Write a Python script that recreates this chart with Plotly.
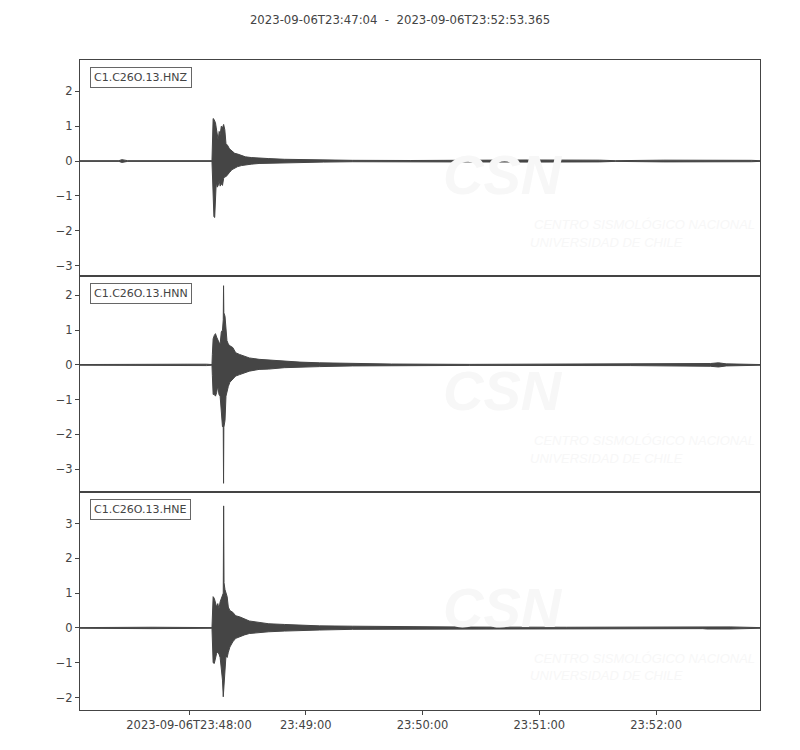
import pandas as pd
import plotly.graph_objects as go
from plotly.subplots import make_subplots

START = "2023-09-06 23:47:04"
END = "2023-09-06 23:52:53.365"
TITLE = "2023-09-06T23:47:04  -  2023-09-06T23:52:53.365"

channels = ["C1.C26O.13.HNZ", "C1.C26O.13.HNN", "C1.C26O.13.HNE"]

# envelope of each trace: seconds after start, upper and lower amplitude
hnz_t = [0, 20, 21.5, 23, 24.5, 67.8, 68.0, 68.4, 68.8, 69.2, 69.6, 70.0, 70.5, 71.0, 71.5, 72.0,
         72.6, 73.2, 73.8, 74.4, 75.0, 75.8, 76.8, 78.0, 79.5, 81.0, 83.0, 85.0, 88.0, 92.0, 97.0,
         105, 113, 125, 140, 170, 195, 230, 267, 275, 300, 320, 345, 349.365]
hnz_hi = [0.01, 0.01, 0.04, 0.03, 0.01, 0.01, 0.3, 1.22, 1.2, 1.15, 1.1, 0.95, 0.8, 0.6, 0.85, 0.75,
          1.0, 0.95, 1.05, 0.9, 0.5, 0.45, 0.35, 0.3, 0.22, 0.2, 0.15, 0.12, 0.1, 0.08, 0.07,
          0.05, 0.04, 0.03, 0.02, 0.015, 0.025, 0.03, 0.025, 0.01, 0.025, 0.03, 0.02, 0.01]
hnz_lo = [-0.01, -0.01, -0.04, -0.03, -0.01, -0.01, -0.4, -1.0, -1.6, -1.62, -1.2, -0.6, -0.75, -0.7, -0.55, -0.72,
          -0.65, -0.7, -0.5, -0.45, -0.45, -0.4, -0.33, -0.25, -0.2, -0.16, -0.13, -0.11, -0.09, -0.07, -0.06,
          -0.05, -0.04, -0.03, -0.02, -0.015, -0.025, -0.03, -0.025, -0.01, -0.025, -0.03, -0.02, -0.01]

hnn_t = [0, 19, 45, 55, 65, 67.8, 68.0, 68.4, 69.0, 69.6, 70.2, 70.8, 71.4, 72.0, 72.6, 73.2,
         73.6, 73.75, 73.9, 74.5, 75.0, 75.5, 76.2, 77.0, 78.5, 80.0, 82.0, 84.5, 87.0, 92.0, 97.0,
         105, 113, 123, 140, 160, 200, 283, 298, 324, 328, 332, 349.365]
hnn_hi = [0.01, 0.02, 0.02, 0.02, 0.02, 0.01, 0.3, 0.75, 0.85, 0.9, 0.8, 0.7, 0.65, 0.6, 0.95, 1.0,
          1.3, 2.28, 1.5, 1.4, 1.1, 0.7, 0.6, 0.55, 0.5, 0.35, 0.3, 0.25, 0.2, 0.16, 0.14,
          0.11, 0.08, 0.06, 0.04, 0.025, 0.015, 0.02, 0.02, 0.04, 0.06, 0.03, 0.01]
hnn_lo = [-0.01, -0.02, -0.02, -0.02, -0.02, -0.01, -0.3, -0.85, -0.85, -0.9, -0.8, -0.6, -0.85, -0.9, -1.2, -1.78,
          -1.8, -3.41, -1.8, -1.6, -0.9, -0.75, -0.62, -0.5, -0.42, -0.32, -0.28, -0.22, -0.18, -0.13, -0.12,
          -0.08, -0.06, -0.05, -0.03, -0.02, -0.015, -0.02, -0.02, -0.04, -0.06, -0.03, -0.01]

hne_t = [0, 19, 37, 67.8, 68.0, 68.4, 69.0, 69.6, 70.2, 70.8, 71.4, 72.0, 72.6, 73.2, 73.6, 73.8,
         74.0, 74.5, 75.0, 75.6, 76.2, 77.0, 78.5, 80, 82, 84.5, 87, 92, 97, 105, 113, 123, 140, 160,
         200, 250, 320, 322, 328, 334, 349.365]
hne_hi = [0.01, 0.02, 0.02, 0.01, 0.3, 0.9, 0.85, 0.75, 0.6, 0.7, 0.55, 0.75, 0.85, 0.9, 1.0, 3.51,
          1.3, 1.1, 1.0, 0.9, 0.6, 0.5, 0.45, 0.35, 0.32, 0.25, 0.2, 0.16, 0.12, 0.1, 0.08, 0.06, 0.05, 0.04,
          0.025, 0.02, 0.02, 0.03, 0.04, 0.03, 0.01]
hne_lo = [-0.01, -0.02, -0.02, -0.01, -0.3, -1.0, -1.02, -0.9, -0.73, -0.7, -0.75, -0.85, -1.1, -1.5, -1.98, -1.98,
          -1.8, -1.2, -0.8, -0.85, -0.7, -0.55, -0.4, -0.3, -0.25, -0.2, -0.16, -0.13, -0.11, -0.09, -0.07, -0.06, -0.04, -0.03,
          -0.02, -0.02, -0.02, -0.03, -0.04, -0.03, -0.01]

y_ranges = [[-3.30, 2.90], [-3.66, 2.56], [-2.36, 3.91]]
x_tickvals = ["2023-09-06 23:48:00", "2023-09-06 23:49:00", "2023-09-06 23:50:00",
              "2023-09-06 23:51:00", "2023-09-06 23:52:00"]
x_ticktext = ["2023-09-06T23:48:00", "23:49:00", "23:50:00", "23:51:00", "23:52:00"]

traces = [(hnz_t, hnz_hi, hnz_lo), (hnn_t, hnn_hi, hnn_lo), (hne_t, hne_hi, hne_lo)]

INK = "#454545"
FONT = "DejaVu Sans"
WM = "#f7f7f7"

fig = make_subplots(rows=3, cols=1, shared_xaxes=True, vertical_spacing=0)
start = pd.Timestamp(START)

for i, (t, hi, lo) in enumerate(traces, start=1):
    xs = [start + pd.Timedelta(seconds=s) for s in t]
    fig.add_trace(go.Scatter(
        x=xs + xs[::-1], y=hi + lo[::-1], mode="lines", fill="toself",
        fillcolor=INK, line=dict(color=INK, width=1), hoverinfo="skip", showlegend=False),
        row=i, col=1)

# domains matching the reference layout
domains = [[0.6677, 1.0], [0.3354, 0.6677], [0.0, 0.3354]]
for i in range(3):
    yname = "yaxis" if i == 0 else f"yaxis{i + 1}"
    fig.layout[yname].update(domain=domains[i], range=y_ranges[i], dtick=1, tick0=0,
                             ticks="outside", ticklen=4, tickcolor="#444", showline=True,
                             linecolor="#444", linewidth=1, mirror=True, showgrid=False,
                             zeroline=False, tickfont=dict(family=FONT, size=11.5, color="#444"))
    xname = "xaxis" if i == 0 else f"xaxis{i + 1}"
    fig.layout[xname].update(range=[START, END], showline=True, linecolor="#444", linewidth=1,
                             mirror=True, showgrid=False, zeroline=False,
                             ticks="outside" if i == 2 else "", ticklen=4, tickcolor="#444",
                             showticklabels=(i == 2), tickvals=x_tickvals, ticktext=x_ticktext,
                             tickfont=dict(family=FONT, size=11.5, color="#444"))

annotations = []
for i, ch in enumerate(channels):
    xr = "x domain" if i == 0 else f"x{i + 1} domain"
    yr = "y domain" if i == 0 else f"y{i + 1} domain"
    # faint watermark
    annotations.append(dict(text="<b><i>CSN</i></b>", xref=xr, yref=yr, x=0.622, y=0.468,
                            xanchor="center", yanchor="middle", showarrow=False,
                            font=dict(family="Liberation Sans", size=56, color=WM)))
    annotations.append(dict(text="<i>CENTRO SISMOLÓGICO NACIONAL</i>", xref=xr, yref=yr,
                            x=0.665, y=0.238, xanchor="left", yanchor="middle", showarrow=False,
                            font=dict(family="Liberation Sans", size=13, color=WM)))
    annotations.append(dict(text="<i>UNIVERSIDAD DE CHILE</i>", xref=xr, yref=yr,
                            x=0.659, y=0.157, xanchor="left", yanchor="middle", showarrow=False,
                            font=dict(family="Liberation Sans", size=13, color=WM)))
    annotations.append(dict(text=ch, xref=xr, yref=yr, x=0.0147, y=0.968,
                            xanchor="left", yanchor="top", showarrow=False,
                            font=dict(family=FONT, size=11, color="#444"),
                            bordercolor="#666", borderwidth=1, borderpad=3, bgcolor="white"))

fig.update_layout(
    width=800, height=750, margin=dict(l=72, r=48, t=52, b=48),
    paper_bgcolor="white", plot_bgcolor="white", showlegend=False,
    title=dict(text=TITLE, x=0.49, xanchor="center", y=1 - 12 / 750, yanchor="middle",
               font=dict(family=FONT, size=11.7, color="#444")),
    annotations=annotations,
)

fig.write_html("out.html")
